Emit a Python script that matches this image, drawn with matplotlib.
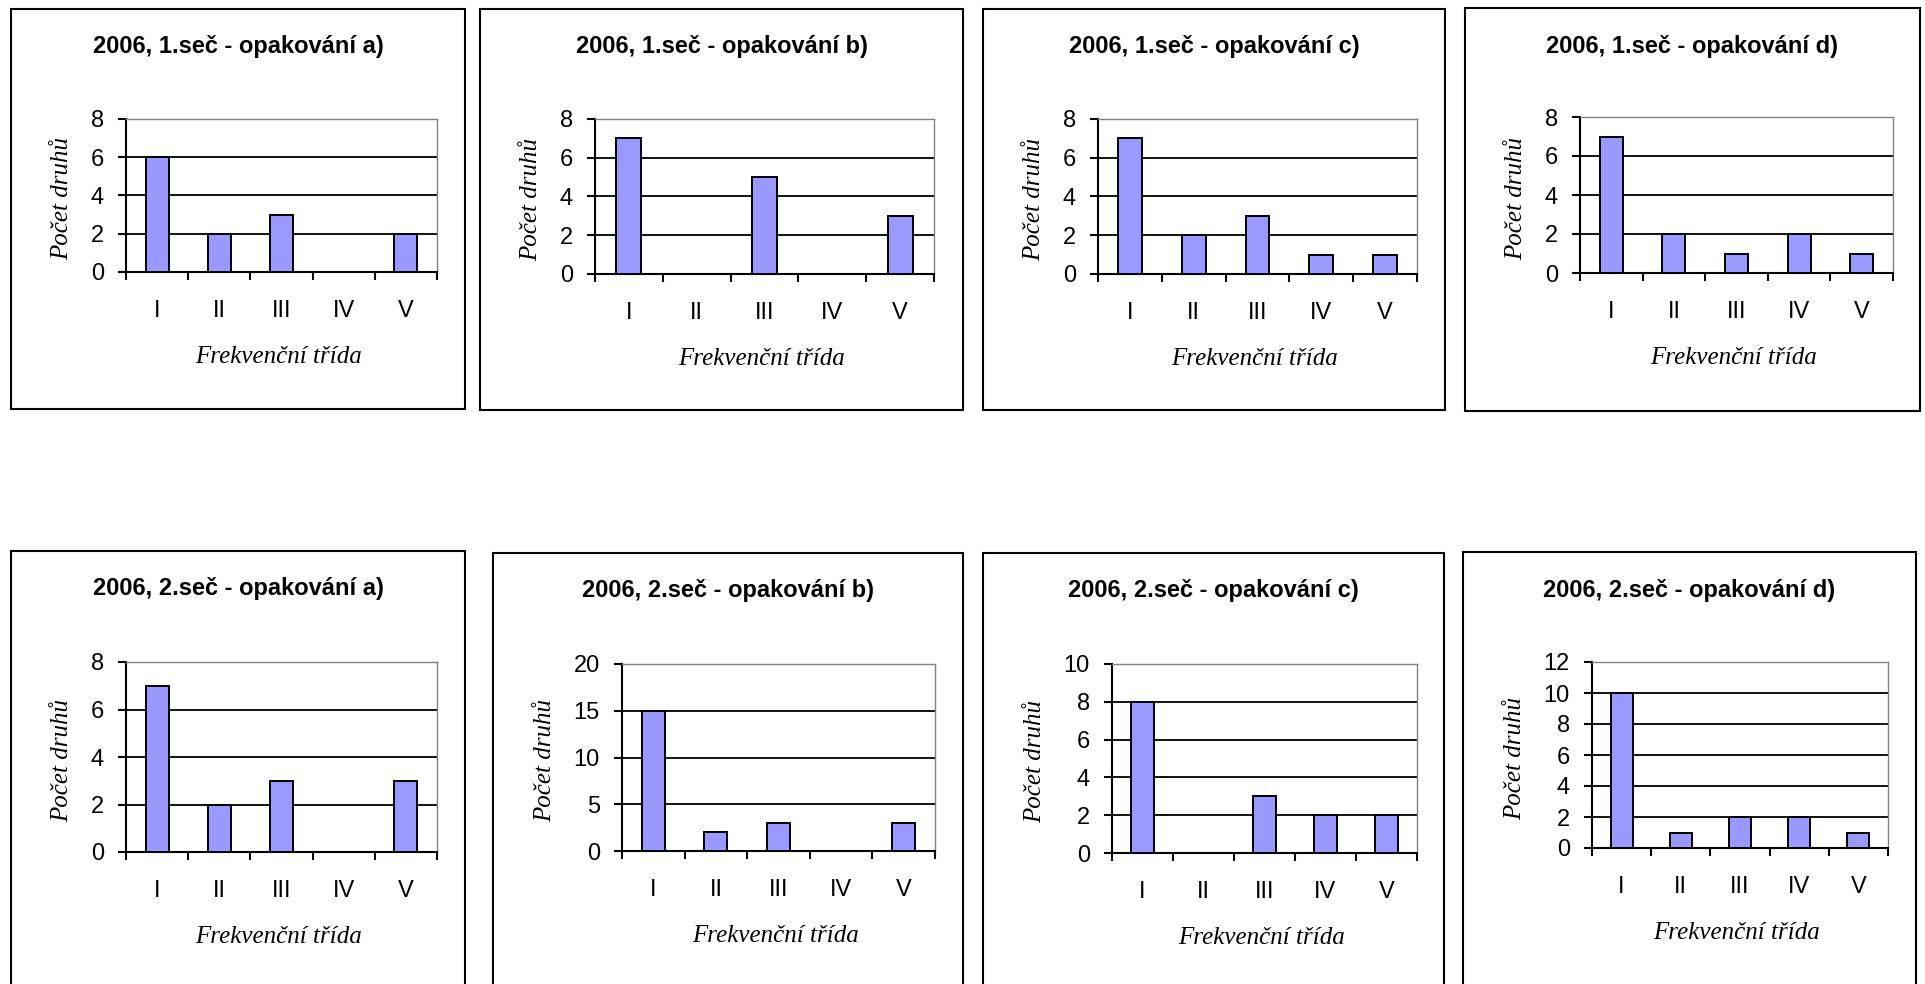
import matplotlib.pyplot as plt
from matplotlib.patches import Rectangle
import matplotlib.ticker as mticker

W, H = 1925, 984

classes = ["I", "II", "III", "IV", "V"]

titles = [
    "2006, 1.seč - opakování a)",
    "2006, 1.seč - opakování b)",
    "2006, 1.seč - opakování c)",
    "2006, 1.seč - opakování d)",
    "2006, 2.seč - opakování a)",
    "2006, 2.seč - opakování b)",
    "2006, 2.seč - opakování c)",
    "2006, 2.seč - opakování d)",
]

counts_1a = [6, 2, 3, 0, 2]
counts_1b = [7, 0, 5, 0, 3]
counts_1c = [7, 2, 3, 1, 1]
counts_1d = [7, 2, 1, 2, 1]
counts_2a = [7, 2, 3, 0, 3]
counts_2b = [15, 2, 3, 0, 3]
counts_2c = [8, 0, 3, 2, 2]
counts_2d = [10, 1, 2, 2, 1]
all_counts = [counts_1a, counts_1b, counts_1c, counts_1d,
              counts_2a, counts_2b, counts_2c, counts_2d]

y_max = [8, 8, 8, 8, 8, 20, 10, 12]
y_step = [2, 2, 2, 2, 2, 5, 2, 2]

# chart frames and plot areas in pixels: (left, top, right, bottom)
frames = [
    (11, 9, 465, 409), (480, 9, 963, 410), (983, 9, 1445, 410), (1465, 8, 1920, 411),
    (11, 551, 465, 1010), (493, 553, 963, 1010), (983, 553, 1444, 1010), (1463, 552, 1916, 1010),
]
plots = [
    (126, 119, 437, 272), (595, 119, 934, 274), (1098, 119, 1417, 274), (1580, 117, 1893, 273),
    (126, 662, 437, 852), (622, 664, 935, 851), (1112, 664, 1417, 853), (1592, 662, 1888, 848),
]

bar_color = "#9999FF"
sans = ["Liberation Sans", "DejaVu Sans"]
serif = ["Liberation Serif", "DejaVu Serif"]

fig = plt.figure(figsize=(W / 100, H / 100), dpi=100, facecolor="white")


def fx(px):
    return px / W


def fy(py):
    return 1 - py / H


for i in range(8):
    fl, ft, fr, fb = frames[i]
    fig.add_artist(Rectangle((fx(fl), fy(fb)), fx(fr - fl), (fb - ft) / H,
                             transform=fig.transFigure, fill=False,
                             edgecolor="black", linewidth=1.5))

    pl, pt, pr, pb = plots[i]
    ax = fig.add_axes([fx(pl), fy(pb), fx(pr - pl), (pb - pt) / H])
    x = range(len(classes))
    ax.bar(x, all_counts[i], width=0.37, color=bar_color,
           edgecolor="black", linewidth=1.4, zorder=3)

    ax.set_xlim(-0.5, len(classes) - 0.5)
    ax.set_ylim(0, y_max[i])
    ax.yaxis.set_major_locator(mticker.MultipleLocator(y_step[i]))
    ax.yaxis.grid(True, color="black", linewidth=1.3, zorder=1)

    ax.set_xticks(list(x))
    ax.set_xticklabels(classes, fontfamily=sans, fontsize=17)
    ax.set_xticks([k - 0.5 for k in range(len(classes) + 1)], minor=True)
    ax.tick_params(axis="x", which="major", length=0, pad=20)
    ax.tick_params(axis="x", which="minor", length=6, width=1.5, direction="out")
    ax.tick_params(axis="y", length=6, width=1.5, direction="out", pad=10)
    for lab in ax.get_yticklabels():
        lab.set_fontfamily(sans)
        lab.set_fontsize(17)

    for side in ("left", "bottom"):
        ax.spines[side].set_color("black")
        ax.spines[side].set_linewidth(1.5)
    for side in ("top", "right"):
        ax.spines[side].set_color("#808080")
        ax.spines[side].set_linewidth(1.0)

    fig.text(fx((fl + fr) / 2), fy(ft + 38), titles[i], ha="center", va="center",
             fontfamily=sans, fontweight="bold", fontsize=17)
    fig.text(fx((pl + pr) / 2 - 3), fy(pb + 85), "Frekvenční třída", ha="center",
             va="center", fontfamily=serif, style="italic", fontsize=18)
    ylab_off = 77 if y_max[i] >= 10 else 64
    fig.text(fx(pl - ylab_off), fy((pt + pb) / 2 + 3), "Počet druhů", ha="center",
             va="center", rotation=90, fontfamily=serif, style="italic", fontsize=18)

fig.savefig("out.png", dpi=100, facecolor="white")
